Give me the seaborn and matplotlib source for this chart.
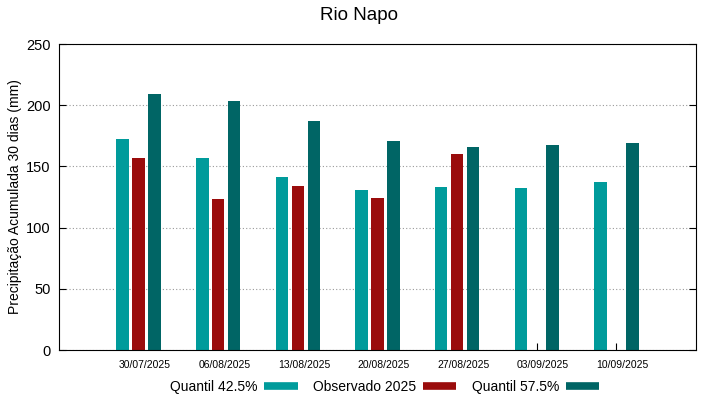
import pandas as pd
import numpy as np
import matplotlib
matplotlib.use("Agg")
import matplotlib.pyplot as plt
import matplotlib.transforms as mtransforms
from matplotlib.lines import Line2D
import seaborn as sns

# Data
dates = ["30/07/2025", "06/08/2025", "13/08/2025", "20/08/2025",
         "27/08/2025", "03/09/2025", "10/09/2025"]
quantil_425 = [172.4, 156.8, 141.1, 130.7, 132.9, 132.1, 137.3]
observado_2025 = [156.9, 123.1, 134.0, 123.9, 160.1, np.nan, np.nan]
quantil_575 = [208.9, 203.7, 186.8, 170.5, 165.8, 167.2, 169.1]

series_names = ["Quantil 42.5%", "Observado 2025", "Quantil 57.5%"]
colors = ["#009b9b", "#9a0c0c", "#006565"]

df = pd.DataFrame({"data": dates,
                   series_names[0]: quantil_425,
                   series_names[1]: observado_2025,
                   series_names[2]: quantil_575})
long_df = df.melt(id_vars="data", var_name="serie", value_name="valor")

sns.set_style("white")
plt.rcParams['font.family'] = ['Liberation Sans', 'DejaVu Sans']
plt.rcParams.update({"text.color": "black", "axes.labelcolor": "black",
                     "xtick.color": "black", "ytick.color": "black"})

fig = plt.figure(figsize=(7.19, 3.99), dpi=100)
ax = fig.add_axes([59 / 719, 1 - 350 / 399, 637 / 719, 306 / 399])

sns.barplot(data=long_df, x="data", y="valor", hue="serie",
            order=dates, hue_order=series_names, palette=colors,
            width=0.6, gap=0.22, saturation=1, linewidth=0,
            ax=ax, legend=False)

ax.set_xlim(-1, 7)
ax.set_ylim(0, 250)
ax.set_yticks(range(0, 251, 50))
ax.grid(axis="y", linestyle=(0, (1, 2)), color="#999999", linewidth=0.8)
ax.set_axisbelow(True)

for s in ax.spines.values():
    s.set_visible(True)
    s.set_color("black")
    s.set_linewidth(0.8)

ax.tick_params(axis="y", direction="in", length=5, labelsize=10.5,
               right=True, left=True, pad=6)
ax.tick_params(axis="x", direction="in", length=5, labelsize=7.5,
               bottom=True, top=False, pad=7)
offset = mtransforms.ScaledTranslation(6 / 100, 0, fig.dpi_scale_trans)
for lbl in ax.get_xticklabels():
    lbl.set_transform(lbl.get_transform() + offset)

ax.set_xlabel("")
ax.set_ylabel("Precipitação Acumulada 30 dias (mm)", fontsize=10)
ax.yaxis.set_label_coords(-0.058, 0.5)
fig.text(0.5, 1 - 16 / 399, "Rio Napo", ha="center", va="center", fontsize=13.5)

handles = [Line2D([0], [0], color=c, linewidth=5.5, solid_capstyle="butt")
           for c in colors]
fig.legend(handles, series_names, loc="center", bbox_to_anchor=(0.535, 1 - 387 / 399),
           ncol=3, frameon=False, markerfirst=False, fontsize=10,
           handlelength=2.4, columnspacing=1.1, handletextpad=0.5)

fig.savefig("out.png", dpi=100)
